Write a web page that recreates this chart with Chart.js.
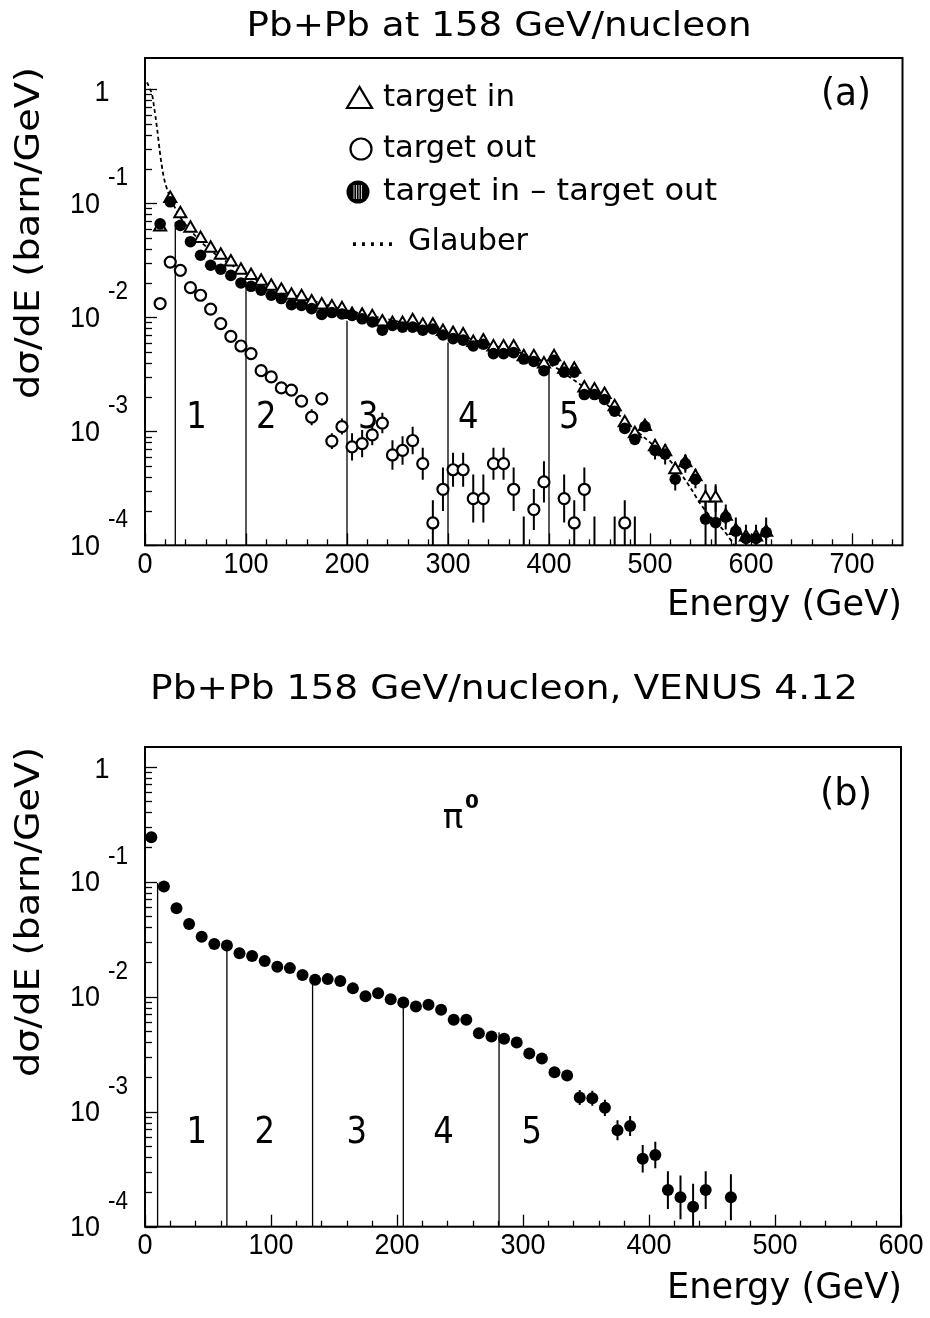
<!DOCTYPE html>
<html>
<head>
<meta charset="utf-8">
<script src="https://cdn.jsdelivr.net/npm/chart.js@4.4.1/dist/chart.umd.min.js"></script>
<style>
  html, body { margin: 0; padding: 0; background: #fff; }
  #wrap { position: relative; width: 930px; height: 1318px; }
  canvas { position: absolute; left: 0; }
  #cA { top: 0; }
  #cB { top: 659px; }
</style>
</head>
<body>
<div id="wrap">
  <canvas id="cA" width="930" height="659"></canvas>
  <canvas id="cB" width="930" height="659"></canvas>
</div>
<script>
// ---- painel (a): dados medidos ----
const energiaA = [15,25,35,45,55,65,75,85,95,105,115,125,135,145,155,165,175,185,195,205,
  215,225,235,245,255,265,275,285,295,305,315,325,335,345,355,365,375,385,395,405,
  415,425,435,445,455,465,475,485,495,505,515,525,535,545,555,565,575,585,595,605,615];

// target in (triangulos)
const alvoDentro = [0.062,0.11,0.081,0.0605,0.049,0.0403,0.035,0.0305,0.0258,0.0233,
  0.0207,0.0187,0.0173,0.0156,0.0151,0.0136,0.0128,0.0123,0.0119,0.0106,
  0.0104,0.0101,0.0091,0.0088,0.0088,0.0093,0.0085,0.0085,0.0075,0.0072,
  0.0070,0.0060,0.0062,0.0055,0.0055,0.0055,0.0045,0.0045,0.0039,0.0045,
  0.0035,0.0035,0.0024,0.0023,0.0021,0.00164,0.00119,0.00095,0.0011,0.00073,
  0.00066,0.00046,0.00053,0.0004,0.00026,0.00026,0.00018,0.000135,0.000118,0.000118,
  0.00013];
const erroDentro = [0,0,0,0,0,0,0,0,0,0, 0,0,0,0,0,0,0,0,0,0, 0,0,0,0,0,0,0,0,0,0,
  0,0,0,0,0,0,0,0,0,0, 0,0,0,0,0,0,0,0,0,0.07, 0.07,0.07,0.07,0.07,0.12,0.12,0.07,0.07,0.07,0.07, 0.07];

// target in - target out (circulos cheios)
const diferenca = [0.066,0.103,0.064,0.046,0.035,0.0286,0.0264,0.0233,0.020,0.0187,
  0.0173,0.0156,0.0146,0.0129,0.0127,0.0119,0.0106,0.0110,0.0107,0.0104,
  0.0097,0.0091,0.0077,0.0085,0.0082,0.0082,0.0077,0.0079,0.0070,0.0065,
  0.0063,0.0056,0.0058,0.0048,0.0048,0.0049,0.0043,0.0041,0.0034,0.0042,
  0.0033,0.0033,0.0021,0.0021,0.0019,0.0015,0.00106,0.00085,0.0011,0.00068,
  0.00063,0.00038,0.00052,0.00038,0.00017,0.000158,0.000177,0.000133,0.000115,0.000115,
  0.00013];
const erroDiferenca = [0,0,0,0,0,0,0,0,0,0, 0,0,0,0,0,0,0,0,0,0, 0,0,0,0,0,0,0,0,0,0,
  0,0,0,0,0,0,0,0,0.03,0.03, 0.03,0.03,0.03,0.03,0.03,0.03,0.04,0.04,0.04,0.08,
  0.09,0.1,0.08,0.08,0.25,0.32,0.11,0.12,0.12,0.12, 0.13];

// target out (circulos abertos), ate 485 GeV
const energiaFora = [15,25,35,45,55,65,75,85,95,105,115,125,135,145,155,165,175,185,195,205,
  215,225,235,245,255,265,275,285,295,305,315,325,335,345,355,365,375,385,395,405,
  415,425,435,445,455,465,475,485];
const alvoFora = [0.0132,0.0305,0.0258,0.0182,0.0156,0.0118,0.0088,0.0068,0.0056,0.0048,
  0.0034,0.0030,0.0024,0.0023,0.00184,0.00133,0.00193,0.00082,0.0011,0.00073,
  0.00078,0.00093,0.00118,0.00062,0.00068,0.00083,0.00052,0.000157,0.00031,0.00046,
  0.00046,0.000257,0.000257,0.00052,0.00052,0.00031,0.00008,0.000206,0.00036,null,
  0.000257,0.000157,0.00031,0.00008,null,0.00008,0.000157,0.00008];
const erroFora = [0,0,0,0,0,0,0,0,0,0, 0,0,0.02,0.03,0.05,0.07,0.06,0.07,0.07,0.12,
  0.12,0.09,0.09,0.13,0.125,0.12,0.14,0.2,0.19,0.15, 0.15,0.21,0.21,0.14,0.14,0.19,0.35,0.18,0.18,0,
  0.21,0.2,0.19,0.35,0,0.35,0.2,0.35];

// curva Glauber
const glauberE = [2,5,7,9,12,15,18,21,25,30,35,45,60,80,100,130,160,200,250,300,
  350,380,405,425,445,465,485,505,525,540,550,563,573,580,585];
const glauberV = [1.15,1.0,0.9,0.7,0.45,0.27,0.18,0.14,0.113,0.09,0.075,0.058,0.042,0.031,0.024,0.0175,0.0145,0.0115,0.0092,0.0073,
  0.0055,0.0046,0.0037,0.0028,0.0021,0.0015,0.00104,0.00073,0.00049,0.00032,0.00023,0.000166,0.000135,0.000111,0.000095];

// cortes em energia (linhas verticais)
const cortesA = [30,100,200,300,400];
const topoCortesA = [0.0686,0.0193,0.0093,0.0060,0.0036];

// ---- painel (b): VENUS 4.12, pi0 ----
const energiaB = [5,15,25,35,45,55,65,75,85,95,105,115,125,135,145,155,165,175,185,195,
  205,215,225,235,245,255,265,275,285,295,305,315,325,335,345,355,365,375,385,395,
  405,415,425,435,445,465];
const venus = [0.243,0.0905,0.0587,0.0429,0.0332,0.0287,0.0278,0.0238,0.0226,0.0204,
  0.0182,0.0177,0.0154,0.0140,0.0142,0.0137,0.0118,0.0101,0.0107,0.0095,
  0.0089,0.0082,0.0085,0.0077,0.0063,0.0063,0.0048,0.0045,0.0043,0.0040,
  0.0032,0.0029,0.0022,0.00206,0.00133,0.00131,0.00108,0.00069,0.00075,0.00039,
  0.00042,0.000208,0.00018,0.000149,0.000208,0.00018];
const erroVenus = [0,0,0,0,0,0,0,0,0,0, 0,0,0,0,0,0,0,0,0,0, 0,0,0,0,0,0,0,0,0,0,
  0,0,0,0,0.065,0.065,0.07,0.087,0.087,0.12, 0.115,0.165,0.19,0.2,0.165,0.2];

const cortesB = [10,65,133,205,281];
const topoCortesB = [0.0975,0.0282,0.014,0.0088,0.0049];

const regioes = ['1','2','3','4','5'];

// ---------- utilitarios de desenho ----------
function texto(ctx, s, x, y, font, o) {
  o = o || {};
  ctx.save();
  ctx.font = font;
  ctx.fillStyle = '#000';
  ctx.textBaseline = 'middle';
  const w = ctx.measureText(s).width;
  const sx = o.width ? o.width / w : (o.sx || 1);
  ctx.translate(x, y);
  if (o.rot) ctx.rotate(o.rot);
  ctx.scale(sx, 1);
  const alinha = o.align || 'center';
  const off = alinha === 'left' ? 0 : (alinha === 'right' ? -w : -w / 2);
  ctx.fillText(s, off, 0);
  ctx.restore();
}

function pontos(xs, ys) {
  return xs.map((e, i) => ({ x: e, y: ys[i] }));
}

function linhasCorte(cortes, topos) {
  return cortes.map((c, i) => ({
    data: [{ x: c, y: 1e-4 }, { x: c, y: topos[i] }],
    showLine: true, borderColor: '#000', borderWidth: 1.3, pointRadius: 0
  }));
}

// eixos no estilo PAW: moldura, ticks para dentro, rotulos 10^n
const paw = {
  id: 'paw',
  beforeDatasetsDraw(chart) {
    const { ctx, chartArea: a } = chart;
    const xs = chart.scales.x, ys = chart.scales.y;
    ctx.save();
    ctx.beginPath();
    ctx.rect(a.left, a.top, a.right - a.left, a.bottom - a.top);
    ctx.clip();
    ctx.strokeStyle = '#000';
    ctx.lineWidth = 2;
    chart.data.datasets.forEach(ds => {
      if (!ds.erros) return;
      ds.data.forEach((p, i) => {
        const e = ds.erros[i];
        if (p.y == null || !e) return;
        const px = xs.getPixelForValue(p.x);
        ctx.beginPath();
        ctx.moveTo(px, ys.getPixelForValue(p.y * Math.pow(10, e)));
        ctx.lineTo(px, ys.getPixelForValue(p.y / Math.pow(10, e)));
        ctx.stroke();
      });
    });
    ctx.restore();
  },
  afterDraw(chart) {
    const { ctx, chartArea: a } = chart;
    const xs = chart.scales.x, ys = chart.scales.y;
    ctx.save();
    ctx.strokeStyle = '#000';
    ctx.lineWidth = 2;
    ctx.strokeRect(a.left, a.top, a.right - a.left, a.bottom - a.top);

    // ticks do eixo y
    ctx.lineWidth = 1.3;
    for (let k = -4; k <= 0; k++) {
      for (let m = 1; m <= 9; m++) {
        const v = m * Math.pow(10, k);
        if (v < ys.min * 0.999 || v > ys.max) continue;
        const py = Math.round(ys.getPixelForValue(v)) + 0.5;
        ctx.beginPath();
        ctx.moveTo(a.left, py);
        ctx.lineTo(a.left + (m === 1 ? 12 : 7), py);
        ctx.stroke();
      }
      const py = ys.getPixelForValue(Math.pow(10, k));
      if (k === 0) {
        texto(ctx, '1', 102, py + 3, '30px "Liberation Sans"', { sx: 0.9 });
      } else {
        texto(ctx, '10', 100, py + 1, '30px "Liberation Sans"', { sx: 0.9, align: 'right' });
        texto(ctx, String(k), 108, py - 25, '25px "Liberation Sans"', { sx: 0.9, align: 'left' });
      }
    }
    // ticks do eixo x
    for (let v = 0; v <= xs.max; v += 20) {
      const px = Math.round(xs.getPixelForValue(v)) + 0.5;
      ctx.beginPath();
      ctx.moveTo(px, a.bottom);
      ctx.lineTo(px, a.bottom - (v % 100 === 0 ? 12 : 6));
      ctx.stroke();
      if (v % 100 === 0) {
        texto(ctx, String(v), xs.getPixelForValue(v), a.bottom + 19, '30px "Liberation Sans"', { sx: 0.9 });
      }
    }
    ctx.restore();
  }
};

const fonteH = '"DejaVu Sans"';

const textosA = {
  id: 'textosA',
  afterDraw(chart) {
    const ctx = chart.ctx;
    const xs = chart.scales.x, ys = chart.scales.y;
    texto(ctx, 'Pb+Pb at 158 GeV/nucleon', 499, 27, '34px ' + fonteH, { width: 505 });
    texto(ctx, '(a)', 846, 95, '37px ' + fonteH, { width: 50 });
    texto(ctx, 'Energy (GeV)', 902, 606, '36px ' + fonteH, { width: 235, align: 'right' });
    texto(ctx, 'd\u03c3/dE (barn/GeV)', 30, 233, '34px ' + fonteH, { width: 332, rot: -Math.PI / 2 });

    // legenda
    ctx.save();
    ctx.strokeStyle = '#000';
    ctx.lineWidth = 2.2;
    ctx.beginPath();
    ctx.moveTo(347, 108); ctx.lineTo(372, 108); ctx.lineTo(359.5, 87); ctx.closePath();
    ctx.stroke();
    ctx.beginPath();
    ctx.arc(361, 149, 10.5, 0, Math.PI * 2);
    ctx.stroke();
    ctx.fillStyle = '#000';
    ctx.beginPath();
    ctx.arc(358, 192, 11.5, 0, Math.PI * 2);
    ctx.fill();
    ctx.strokeStyle = '#fff';
    ctx.lineWidth = 0.8;
    [-4, -1.5, 1, 3.5].forEach(d => {
      ctx.beginPath(); ctx.moveTo(358 + d, 185); ctx.lineTo(358 + d, 199); ctx.stroke();
    });
    ctx.restore();
    texto(ctx, 'target in', 383, 98, '30px ' + fonteH, { width: 132, align: 'left' });
    texto(ctx, 'target out', 383, 149, '30px ' + fonteH, { width: 153, align: 'left' });
    texto(ctx, 'target in \u2013 target out', 383, 192, '30px ' + fonteH, { width: 334, align: 'left' });
    texto(ctx, '.....', 350, 238, '30px ' + fonteH, { width: 45, align: 'left' });
    texto(ctx, 'Glauber', 408, 242, '30px ' + fonteH, { width: 120, align: 'left' });

    // numeros das regioes
    const posX = [51, 120, 221, 320, 420];
    regioes.forEach((r, i) => {
      texto(ctx, r, xs.getPixelForValue(posX[i]), ys.getPixelForValue(1.3e-3), '38px ' + fonteH, { sx: 0.85 });
    });
  }
};

const textosB = {
  id: 'textosB',
  afterDraw(chart) {
    const ctx = chart.ctx;
    const xs = chart.scales.x, ys = chart.scales.y;
    texto(ctx, 'Pb+Pb 158 GeV/nucleon, VENUS 4.12', 504, 31, '34px ' + fonteH, { width: 708 });
    texto(ctx, '(b)', 846, 136, '37px ' + fonteH, { width: 52 });
    texto(ctx, 'Energy (GeV)', 902, 630, '36px ' + fonteH, { width: 235, align: 'right' });
    texto(ctx, 'd\u03c3/dE (barn/GeV)', 30, 253, '34px ' + fonteH, { width: 330, rot: -Math.PI / 2 });
    texto(ctx, '\u03c0', 453, 160, '34px ' + fonteH, { sx: 1 });
    texto(ctx, '0', 472, 144, 'bold 20px ' + fonteH, { sx: 1 });
    const posX = [41, 95, 168, 237, 307];
    regioes.forEach((r, i) => {
      texto(ctx, r, xs.getPixelForValue(posX[i]), ys.getPixelForValue(6.5e-4), '38px ' + fonteH, { sx: 0.85 });
    });
  }
};

const opcoesBase = (xmax, ymax, pad) => ({
  responsive: false,
  animation: false,
  events: [],
  layout: { padding: pad },
  plugins: { legend: { display: false }, tooltip: { enabled: false } },
  scales: {
    x: { type: 'linear', min: 0, max: xmax, display: false },
    y: { type: 'logarithmic', min: 1e-4, max: ymax, display: false }
  }
});

// painel (a)
new Chart(document.getElementById('cA'), {
  type: 'scatter',
  data: {
    datasets: [
      { label: 'target out', data: pontos(energiaFora, alvoFora), erros: erroFora,
        pointStyle: 'circle', pointRadius: 5.5, pointBackgroundColor: '#fff',
        pointBorderColor: '#000', pointBorderWidth: 2.2 },
      { label: 'target in - target out', data: pontos(energiaA, diferenca), erros: erroDiferenca,
        pointStyle: 'circle', pointRadius: 5.8, pointBackgroundColor: '#000',
        pointBorderColor: '#000', pointBorderWidth: 0 },
      { label: 'target in', data: pontos(energiaA, alvoDentro), erros: erroDentro,
        pointStyle: 'triangle', pointRadius: 7, pointBackgroundColor: '#fff',
        pointBorderColor: '#000', pointBorderWidth: 2 },
      { label: 'Glauber', data: pontos(glauberE, glauberV), showLine: true,
        borderColor: '#000', borderWidth: 1.8, borderDash: [4, 3], pointRadius: 0,
        cubicInterpolationMode: 'monotone' },
      ...linhasCorte(cortesA, topoCortesA)
    ]
  },
  options: opcoesBase(750, 1.88, { left: 145, right: 27.5, top: 58, bottom: 113.7 }),
  plugins: [paw, textosA]
});

// painel (b)
new Chart(document.getElementById('cB'), {
  type: 'scatter',
  data: {
    datasets: [
      { label: 'VENUS', data: pontos(energiaB, venus), erros: erroVenus,
        pointStyle: 'circle', pointRadius: 6, pointBackgroundColor: '#000',
        pointBorderColor: '#000', pointBorderWidth: 0 },
      ...linhasCorte(cortesB, topoCortesB)
    ]
  },
  options: opcoesBase(600, 1.48, { left: 145, right: 29, top: 88, bottom: 91.3 }),
  plugins: [paw, textosB]
});
</script>
</body>
</html>
